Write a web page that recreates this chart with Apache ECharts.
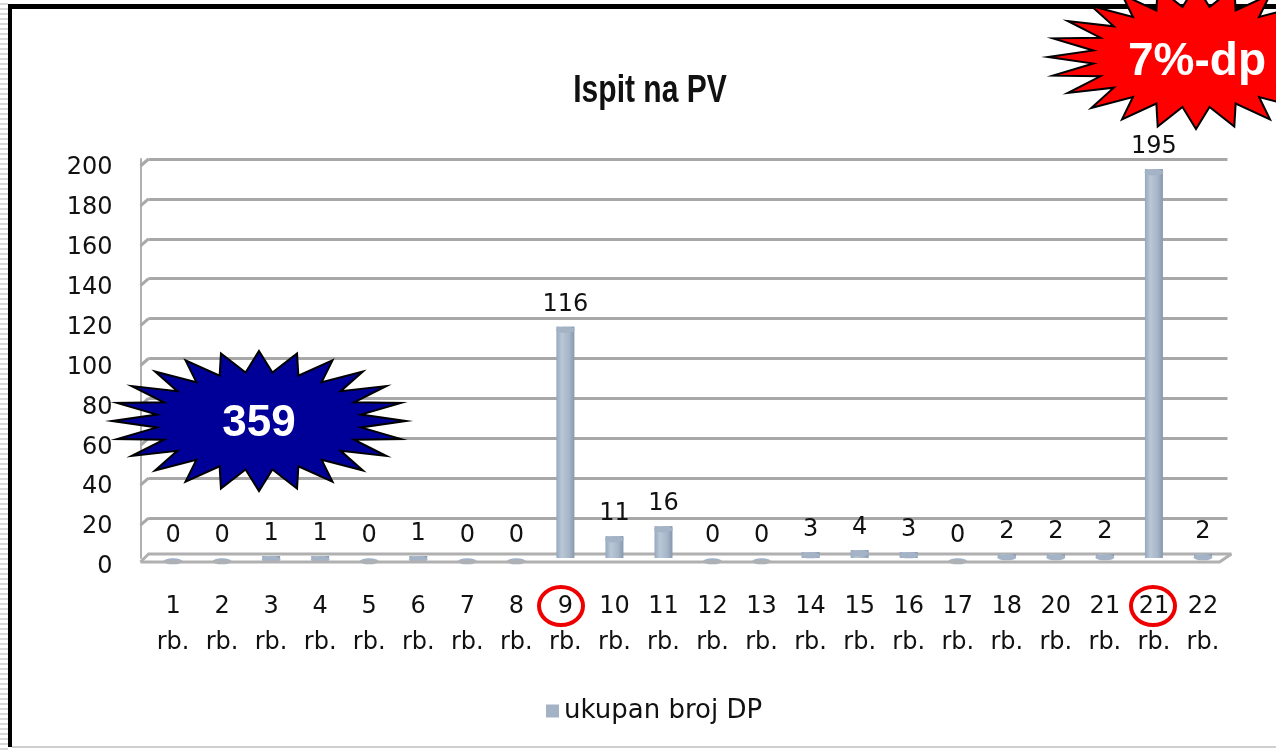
<!DOCTYPE html>
<html><head><meta charset="utf-8">
<script src="https://cdn.jsdelivr.net/npm/echarts@6/dist/echarts.min.js"></script>
<style>
html,body{margin:0;padding:0;background:#fff;}
#wrap{position:relative;width:1276px;height:750px;overflow:hidden;background:#fff;}
#stripes{position:absolute;left:0;top:0;width:8px;height:750px;background:repeating-linear-gradient(#fff 0 3px,#d8d8d8 3px 5px);}
#frame{position:absolute;left:8px;top:4px;width:1300px;height:743px;border-left:4px solid #000;border-top:5px solid #000;box-sizing:border-box;}
#bottomline{position:absolute;left:12px;top:746px;width:1270px;height:2px;background:#cfcfcf;}
#chart{position:absolute;left:0;top:0;width:1276px;height:750px;}
</style></head>
<body><div id="wrap"><div id="stripes"></div><div id="frame"></div><div id="bottomline"></div><div id="chart"></div></div>
<script>
const categories = ['1\nrb.','2\nrb.','3\nrb.','4\nrb.','5\nrb.','6\nrb.','7\nrb.','8\nrb.','9\nrb.','10\nrb.','11\nrb.','12\nrb.','13\nrb.','14\nrb.','15\nrb.','16\nrb.','17\nrb.','18\nrb.','20\nrb.','21\nrb.','21\nrb.','22\nrb.'];
const values = [0,0,1,1,0,1,0,0,116,11,16,0,0,3,4,3,0,2,2,2,195,2];
const seriesName = 'ukupan broj DP';
const titleText = 'Ispit na PV';
const yTicks = [0,20,40,60,80,100,120,140,160,180,200];

const chart = echarts.init(document.getElementById('chart'), null, {renderer:'canvas'});

function star(cx, cy, rx, ry, n, k) {
  const pts = [];
  for (let i = 0; i < 2*n; i++) {
    const a = Math.PI * i / n - Math.PI/2;
    const f = (i % 2 === 0) ? 1 : k;
    pts.push([cx + rx*f*Math.cos(a), cy + ry*f*Math.sin(a)]);
  }
  return pts;
}

const barGrad = new echarts.graphic.LinearGradient(0,0,1,0,[
  {offset:0,color:'#97a8bd'},{offset:0.3,color:'#b9c7d6'},{offset:0.7,color:'#a7b6c8'},{offset:1,color:'#8798ae'}]);

const gridColors = yTicks.map(function(v, i){ return i === 0 ? 'rgba(0,0,0,0)' : '#a8a8a8'; });

const baseGraphic = [
  {type:'text',style:{text:titleText,x:650,y:92,fill:'#111',font:'bold 38px "Liberation Sans"',textAlign:'center',textVerticalAlign:'middle'},
    originX:650,originY:92,scaleX:0.79,z:50},
  {type:'polygon',shape:{points:star(259,421,147,70,24,0.7)},style:{fill:'#000099',stroke:'#000',lineWidth:2},z:100},
  {type:'text',style:{text:'359',x:259,y:424,fill:'#fff',font:'bold 44px "Liberation Sans"',textAlign:'center',textVerticalAlign:'middle'},z:101},
  {type:'polygon',shape:{points:star(1196,57,148,72,24,0.7)},style:{fill:'#ff0000',stroke:'#000',lineWidth:2},z:100},
  {type:'text',style:{text:'7%-dp',x:1197,y:62,fill:'#fff',font:'bold 46px "Liberation Sans"',textAlign:'center',textVerticalAlign:'middle'},z:101},
  {type:'ellipse',shape:{cx:561,cy:606,rx:22,ry:19},style:{fill:null,stroke:'#ee0000',lineWidth:4},z:100},
  {type:'ellipse',shape:{cx:1153,cy:606,rx:22,ry:19},style:{fill:null,stroke:'#ee0000',lineWidth:4},z:100}
];

const option = {
  animation:false,
  legend:{bottom:21,left:541,itemWidth:13,itemHeight:13,itemGap:9,icon:'rect',
    itemStyle:{color:'#a3b2c4'},
    textStyle:{fontFamily:'DejaVu Sans',fontSize:26,color:'#111'},data:[seriesName]},
  grid:{left:148.5,right:48.5,top:159,bottom:192},
  xAxis:{type:'category',data:categories,
    axisLine:{show:false},axisTick:{show:false},
    axisLabel:{interval:0,margin:31,fontFamily:'DejaVu Sans',fontSize:24,color:'#111',lineHeight:36}},
  yAxis:{type:'value',min:0,max:200,interval:20,
    axisLine:{show:true,onZero:false,lineStyle:{color:'#b0b0b0',width:2}},offset:8,
    axisTick:{show:false},
    axisLabel:{margin:28,fontFamily:'DejaVu Sans',fontSize:24,color:'#111',verticalAlign:'top',lineHeight:18},
    splitLine:{lineStyle:{color:gridColors,width:3}}},
  series:[
    {name:seriesName,type:'bar',data:values,barWidth:18,
      itemStyle:{color:barGrad},
      label:{show:true,position:'top',distance:10,fontFamily:'DejaVu Sans',fontSize:24,color:'#111'},z:6},
    {name:seriesName,type:'pictorialBar',data:values,symbol:'circle',symbolSize:[19,6],
      symbolPosition:'end',symbolOffset:[0,0],itemStyle:{color:'#a4b3c5',borderColor:'#7f90a6',borderWidth:1},z:7}
  ],
  graphic:baseGraphic
};
chart.setOption(option);

// 3D wall/floor decoration derived from the axis scale
const deco = [];
const xLeft = chart.convertToPixel({xAxisIndex:0}, 0) - 24.5;
const xRight = chart.convertToPixel({xAxisIndex:0}, categories.length-1) + 24.5;
yTicks.forEach(function(v){
  if (v === 0) return;
  const py = chart.convertToPixel({yAxisIndex:0}, v);
  deco.push({type:'line',shape:{x1:140.5,y1:py+7,x2:xLeft,y2:py},style:{stroke:'#a8a8a8',lineWidth:3},z:1});
});
const p0 = chart.convertToPixel({yAxisIndex:0}, 0);
deco.push({type:'polyline',shape:{points:[[140.5,p0+4],[xLeft,p0-4],[xRight+4,p0-4]]},style:{stroke:'#b0b0b0',lineWidth:3,fill:null},z:1});
deco.push({type:'polyline',shape:{points:[[140.5,p0+4],[xRight-8,p0+4],[xRight+4,p0-4]]},style:{stroke:'#b0b0b0',lineWidth:3,fill:null},z:8});
chart.setOption({graphic:baseGraphic.concat(deco)});
</script></body></html>
